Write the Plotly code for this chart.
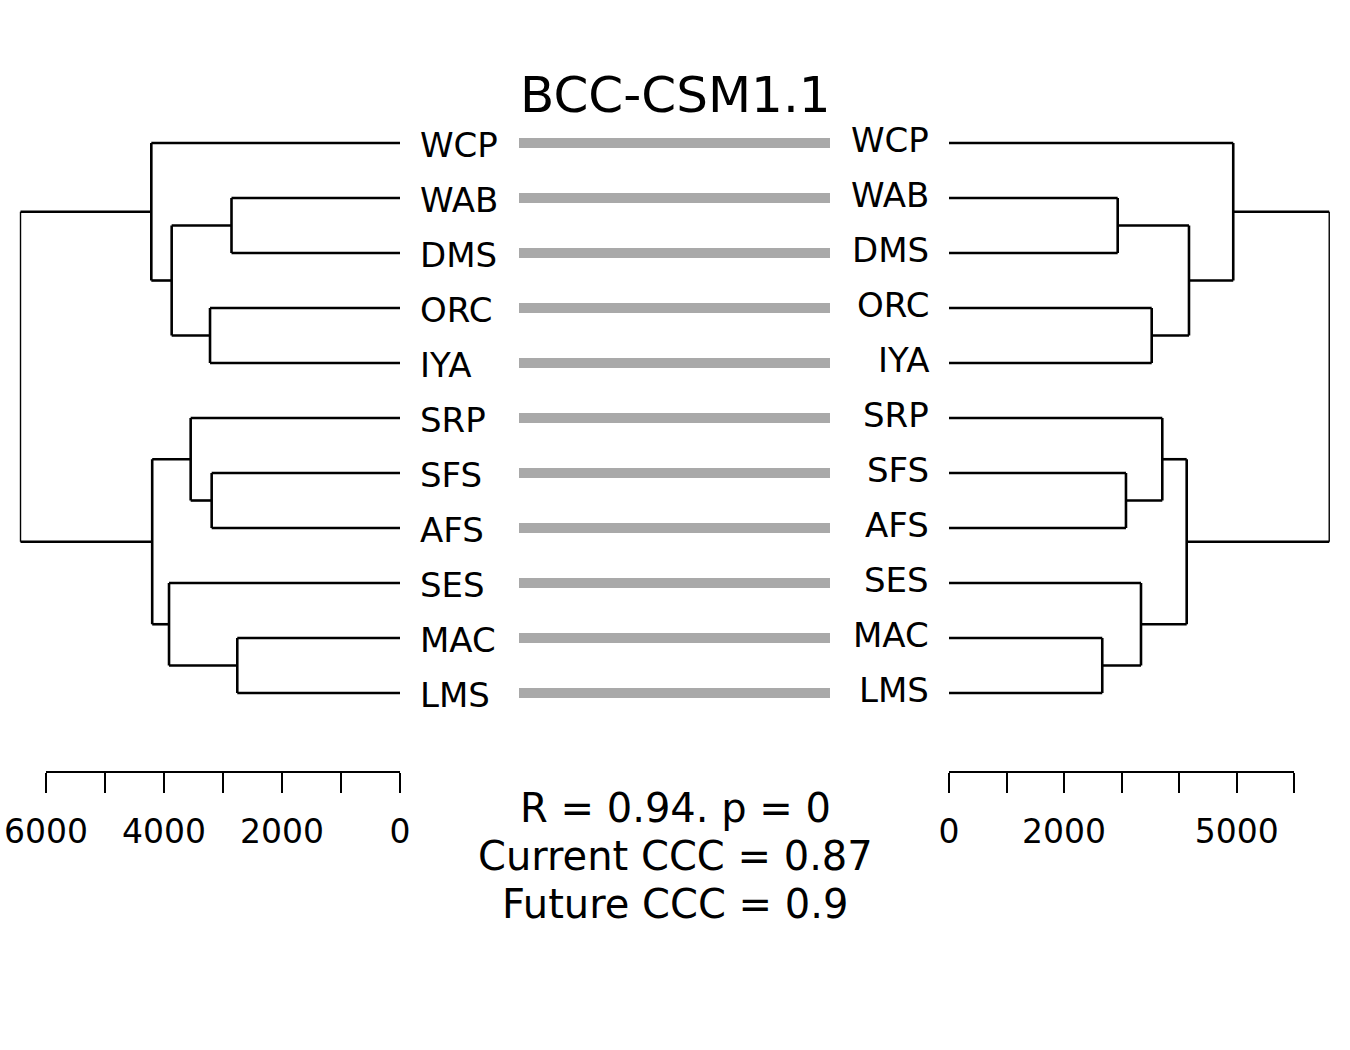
import plotly.graph_objects as go

W, H = 1350, 1050

# ---------------- data ----------------
leaves = ["WCP", "WAB", "DMS", "ORC", "IYA", "SRP", "SFS", "AFS", "SES", "MAC", "LMS"]
# merge structure (R hclust style: negative = leaf index (1-based), positive = earlier merge)
merges = [(-2, -3), (-4, -5), (1, 2), (-1, 3), (-7, -8), (-6, 5), (-10, -11), (-9, 7), (6, 8), (4, 9)]
heights_current = [2856, 3220, 3870, 4215, 3192, 3548, 2758, 3915, 4200, 6432]
heights_future = [2931, 3522, 4170, 4939, 3075, 3706, 2663, 3336, 4130, 6607]

left_ticks = [0, 1000, 2000, 3000, 4000, 5000, 6000]
left_ticklabels = ["0", "", "2000", "", "4000", "", "6000"]
right_ticks = [0, 1000, 2000, 3000, 4000, 5000, 6000]
right_ticklabels = ["0", "", "2000", "", "", "5000", ""]

title = "BCC-CSM1.1"
stats_lines = ["R = 0.94. p = 0", "Current CCC = 0.87", "Future CCC = 0.9"]

# ---------------- layout constants ----------------
FONT = "DejaVu Sans"
LEAF_Y0, LEAF_DY = 143, 55
L_ZERO, L_SCALE = 400, 354 / 6000      # px position of 0, px per unit (left)
R_ZERO, R_SCALE = 949, 345.3 / 6000    # right
AXIS_Y = 772


def dendro_segments(heights):
    """Return (main_x, main_y, root_x, root_y) segments for a dendrogram."""
    pos = {}
    hts = {}
    for i in range(len(leaves)):
        pos[-(i + 1)] = i
        hts[-(i + 1)] = 0.0
    mx, my, rx, ry = [], [], [], []
    n = len(merges)
    for k, ((a, b), h) in enumerate(zip(merges, heights), start=1):
        ya, yb = pos[a], pos[b]
        for c, yc in ((a, ya), (b, yb)):
            mx += [hts[c], h, None]
            my += [yc, yc, None]
        if k == n:
            rx += [h, h, None]
            ry += [ya, yb, None]
        else:
            mx += [h, h, None]
            my += [ya, yb, None]
        pos[k] = (ya + yb) / 2
        hts[k] = h
    return mx, my, rx, ry


fig = go.Figure()

lmx, lmy, lrx, lry = dendro_segments(heights_current)
rmx, rmy, rrx, rry = dendro_segments(heights_future)

fig.add_trace(go.Scatter(x=lmx, y=lmy, mode="lines", xaxis="x", yaxis="y",
                         line=dict(color="black", width=2.6), hoverinfo="skip", showlegend=False))
fig.add_trace(go.Scatter(x=lrx, y=lry, mode="lines", xaxis="x", yaxis="y",
                         line=dict(color="black", width=1.4), hoverinfo="skip", showlegend=False))
fig.add_trace(go.Scatter(x=rmx, y=rmy, mode="lines", xaxis="x3", yaxis="y",
                         line=dict(color="black", width=2.6), hoverinfo="skip", showlegend=False))
fig.add_trace(go.Scatter(x=rrx, y=rry, mode="lines", xaxis="x3", yaxis="y",
                         line=dict(color="black", width=1.4), hoverinfo="skip", showlegend=False))

# connectors between identical leaves
cx, cy = [], []
for i, name in enumerate(leaves):
    cx += [519, 830, None]
    cy += [i, i, None]
fig.add_trace(go.Scatter(x=cx, y=cy, mode="lines", xaxis="x5", yaxis="y",
                         line=dict(color="#A9A9A9", width=10), hoverinfo="skip", showlegend=False))

# dummy traces so scale axes render
fig.add_trace(go.Scatter(x=[None], y=[None], xaxis="x2", yaxis="y", showlegend=False))
fig.add_trace(go.Scatter(x=[None], y=[None], xaxis="x4", yaxis="y", showlegend=False))

annotations = []
for i, name in enumerate(leaves):
    annotations.append(dict(x=418, y=i + 1.5 / LEAF_DY, xref="x5", yref="y", text=name,
                            showarrow=False, xanchor="left", yanchor="middle",
                            font=dict(family=FONT, size=34, color="black")))
    annotations.append(dict(x=931, y=i - 3.5 / LEAF_DY, xref="x5", yref="y", text=name,
                            showarrow=False, xanchor="right", yanchor="middle",
                            font=dict(family=FONT, size=34, color="black")))

annotations.append(dict(x=0.5, y=1 - 95 / H, xref="paper", yref="paper", text=title,
                        showarrow=False, xanchor="center", yanchor="middle",
                        font=dict(family=FONT, size=50, color="black")))
for j, line in enumerate(stats_lines):
    annotations.append(dict(x=0.5, y=1 - (808 + 48 * j) / H, xref="paper", yref="paper", text=line,
                            showarrow=False, xanchor="center", yanchor="middle",
                            font=dict(family=FONT, size=40, color="black")))

hidden = dict(visible=False, showgrid=False, zeroline=False, automargin=False)
scale_axis = dict(anchor="free", position=1 - AXIS_Y / H, side="bottom",
                  showline=True, linecolor="black", linewidth=2.4,
                  ticks="outside", ticklen=20, tickwidth=2.4, tickcolor="black",
                  ticklabelstandoff=10,
                  showgrid=False, zeroline=False, automargin=False,
                  tickfont=dict(family=FONT, size=33, color="black"))

fig.update_layout(
    template="none",
    width=W, height=H,
    margin=dict(l=0, r=0, t=0, b=0, pad=0),
    paper_bgcolor="white", plot_bgcolor="rgba(0,0,0,0)",
    showlegend=False,
    xaxis=dict(domain=[0, L_ZERO / W], range=[L_ZERO / L_SCALE, 0], **hidden),
    xaxis2=dict(domain=[(L_ZERO - 6000 * L_SCALE) / W, L_ZERO / W], range=[6000, 0],
                tickmode="array", tickvals=left_ticks, ticktext=left_ticklabels, **scale_axis),
    xaxis3=dict(domain=[R_ZERO / W, 1], range=[0, (W - R_ZERO) / R_SCALE], **hidden),
    xaxis4=dict(domain=[R_ZERO / W, (R_ZERO + 6000 * R_SCALE) / W], range=[0, 6000],
                tickmode="array", tickvals=right_ticks, ticktext=right_ticklabels, **scale_axis),
    xaxis5=dict(domain=[L_ZERO / W, R_ZERO / W], range=[L_ZERO, R_ZERO], **hidden),
    yaxis=dict(domain=[0, 1], range=[(H - LEAF_Y0) / LEAF_DY, -LEAF_Y0 / LEAF_DY], **hidden),
    annotations=annotations,
)

fig.write_html("out.html")
